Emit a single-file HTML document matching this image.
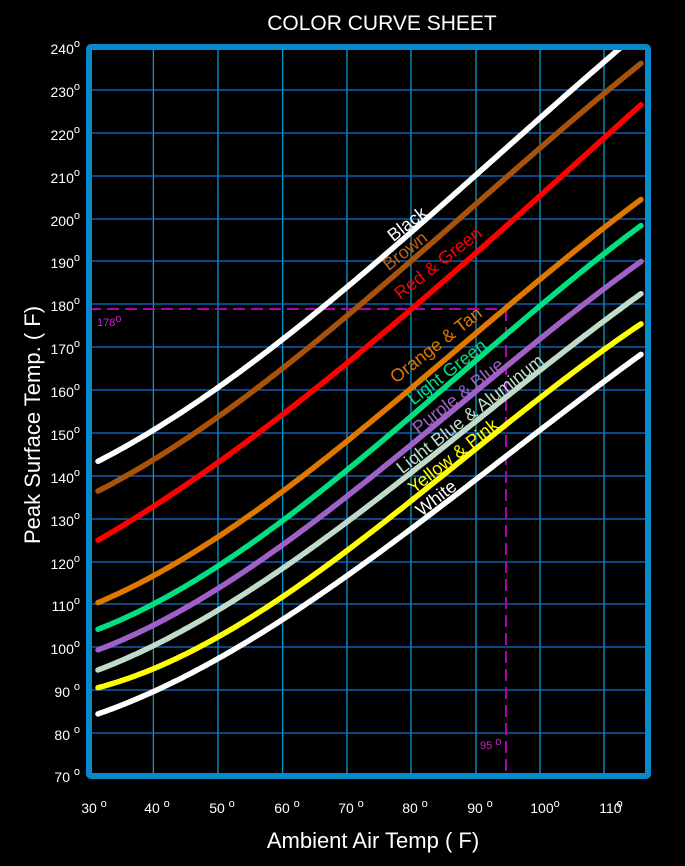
<!DOCTYPE html>
<html><head><style>
html,body{margin:0;padding:0;background:#000;}
svg{display:block;font-family:"Liberation Sans",Arial,sans-serif;}
</style></head><body>
<svg id="s" width="685" height="866" viewBox="0 0 685 866" xmlns="http://www.w3.org/2000/svg">
<rect width="685" height="866" fill="#000"/>
<text x="382" y="30" fill="#fff" font-size="21" text-anchor="middle">COLOR CURVE SHEET</text>
<g stroke-width="1.3">
<g stroke="#0a9ad0">
<line x1="153.4" y1="47" x2="153.4" y2="776"/><line x1="218" y1="47" x2="218" y2="776"/>
<line x1="282.6" y1="47" x2="282.6" y2="776"/><line x1="347" y1="47" x2="347" y2="776"/>
<line x1="411" y1="47" x2="411" y2="776"/><line x1="476" y1="47" x2="476" y2="776"/>
<line x1="540" y1="47" x2="540" y2="776"/><line x1="604" y1="47" x2="604" y2="776"/>
</g>
<g stroke="#1070d0">
<line x1="89" y1="90" x2="648" y2="90"/><line x1="89" y1="133" x2="648" y2="133"/>
<line x1="89" y1="176" x2="648" y2="176"/><line x1="89" y1="219" x2="648" y2="219"/>
<line x1="89" y1="261" x2="648" y2="261"/><line x1="89" y1="304" x2="648" y2="304"/>
<line x1="89" y1="347" x2="648" y2="347"/><line x1="89" y1="390" x2="648" y2="390"/>
<line x1="89" y1="433" x2="648" y2="433"/><line x1="89" y1="476" x2="648" y2="476"/>
<line x1="89" y1="519" x2="648" y2="519"/><line x1="89" y1="562" x2="648" y2="562"/>
<line x1="89" y1="604" x2="648" y2="604"/><line x1="89" y1="647" x2="648" y2="647"/>
<line x1="89" y1="690" x2="648" y2="690"/><line x1="89" y1="733" x2="648" y2="733"/>
</g></g>
<g stroke="#b000b0" stroke-width="2" stroke-dasharray="12,6" fill="none">
<line x1="89" y1="309" x2="506" y2="309"/><line x1="506" y1="309" x2="506" y2="776"/>
</g>
<text x="97" y="326" fill="#d020d0" font-size="11">178<tspan dy="-4">o</tspan></text>
<text x="480" y="749" fill="#d020d0" font-size="11">95 <tspan dy="-4">o</tspan></text>
<g id="curves" fill="none" stroke-width="5.5" stroke-linecap="round" stroke-linejoin="round">
<polyline stroke="#fff" points="98,461 154,430 218,388 282,340 347,286 411,232 476,176 540,118 620,48"/>
<polyline stroke="#a8520a" points="98,488 154,463 218,420 282,368 347,312 411,258 476,206 540,152 643,60"/>
<polyline stroke="#ff0000" points="98,538 154,510 218,462 282,415 347,361 411,309 476,253 540,198 643,102"/>
<polyline stroke="#e07800" points="98,602 154,577 218,535 282,495 347,437 411,390 476,334 540,279 643,198"/>
<polyline stroke="#00e080" points="98,629 154,605 218,563 282,525 347,468 411,416 476,361 540,306 643,224"/>
<polyline stroke="#a060c8" points="98,650 154,625 218,587 282,548 347,495 411,444 476,392 540,339 643,260"/>
<polyline stroke="#c0dcc8" points="98,669 154,647 218,610 282,570 347,520 411,471 476,424 540,370 643,292"/>
<polyline stroke="#ffff00" points="98,688 154,667 218,638 282,600 347,548 411,499 476,450 540,399 643,322"/>
<polyline stroke="#fff" points="98,713 154,692 218,660 282,620 347,575 411,527 476,479 540,433 643,352"/>
</g>
<g font-size="18" text-anchor="middle" dominant-baseline="central">
<text transform="translate(407,224) rotate(-38)" fill="#fff">Black</text>
<text transform="translate(405,251) rotate(-38)" fill="#c06010">Brown</text>
<text transform="translate(438,263) rotate(-38)" fill="#ff0000">Red &amp; Green</text>
<text transform="translate(436,345) rotate(-38)" fill="#e07800">Orange &amp; Tan</text>
<text transform="translate(447,372) rotate(-38)" fill="#00e080">Light Green</text>
<text transform="translate(458,396) rotate(-38)" fill="#a060c8">Purple &amp; Blue</text>
<text transform="translate(470,414) rotate(-38)" fill="#c0dcc8">Light Blue &amp; Aluminum</text>
<text transform="translate(453,456) rotate(-38)" fill="#ffff00">Yellow &amp; Pink</text>
<text transform="translate(436,498) rotate(-38)" fill="#fff">White</text>
</g>
<rect x="89" y="47" width="559" height="729" fill="none" stroke="#0a88cc" stroke-width="6" rx="2"/>
<g fill="#fff" font-size="14" text-anchor="end">
<text x="80" y="54">240<tspan dy="-7" font-size="11">o</tspan></text>
<text x="80" y="97">230<tspan dy="-7" font-size="11">o</tspan></text>
<text x="80" y="140">220<tspan dy="-7" font-size="11">o</tspan></text>
<text x="80" y="183">210<tspan dy="-7" font-size="11">o</tspan></text>
<text x="80" y="226">200<tspan dy="-7" font-size="11">o</tspan></text>
<text x="80" y="268">190<tspan dy="-7" font-size="11">o</tspan></text>
<text x="80" y="311">180<tspan dy="-7" font-size="11">o</tspan></text>
<text x="80" y="354">170<tspan dy="-7" font-size="11">o</tspan></text>
<text x="80" y="397">160<tspan dy="-7" font-size="11">o</tspan></text>
<text x="80" y="440">150<tspan dy="-7" font-size="11">o</tspan></text>
<text x="80" y="483">140<tspan dy="-7" font-size="11">o</tspan></text>
<text x="80" y="526">130<tspan dy="-7" font-size="11">o</tspan></text>
<text x="80" y="569">120<tspan dy="-7" font-size="11">o</tspan></text>
<text x="80" y="611">110<tspan dy="-7" font-size="11">o</tspan></text>
<text x="80" y="654">100<tspan dy="-7" font-size="11">o</tspan></text>
<text x="80" y="697">90 <tspan dy="-7" font-size="11">o</tspan></text>
<text x="80" y="740">80 <tspan dy="-7" font-size="11">o</tspan></text>
<text x="80" y="782">70 <tspan dy="-7" font-size="11">o</tspan></text>
</g>
<g fill="#fff" font-size="14" text-anchor="middle">
<text x="94" y="813">30 <tspan dy="-6" font-size="11">o</tspan></text>
<text x="157" y="813">40 <tspan dy="-6" font-size="11">o</tspan></text>
<text x="222" y="813">50 <tspan dy="-6" font-size="11">o</tspan></text>
<text x="287" y="813">60 <tspan dy="-6" font-size="11">o</tspan></text>
<text x="351" y="813">70 <tspan dy="-6" font-size="11">o</tspan></text>
<text x="415" y="813">80 <tspan dy="-6" font-size="11">o</tspan></text>
<text x="480" y="813">90 <tspan dy="-6" font-size="11">o</tspan></text>
<text x="545" y="813">100<tspan dy="-6" font-size="11">o</tspan></text>
<text x="611" y="813">110<tspan dx="-5" dy="-6" font-size="11">o</tspan></text>
</g>
<text x="373" y="848" fill="#fff" font-size="22" text-anchor="middle">Ambient Air Temp (  F)</text>
<text transform="translate(40,425) rotate(-90)" fill="#fff" font-size="22" text-anchor="middle">Peak Surface Temp. (  F)</text>
</svg>
<script>
(function(){
var ns="http://www.w3.org/2000/svg";
function solve(A,b){var n=b.length;for(var i=0;i<n;i++){var m=i;for(var r=i+1;r<n;r++)if(Math.abs(A[r][i])>Math.abs(A[m][i]))m=r;
 var t=A[i];A[i]=A[m];A[m]=t;t=b[i];b[i]=b[m];b[m]=t;
 for(var r=i+1;r<n;r++){var f=A[r][i]/A[i][i];for(var c=i;c<n;c++)A[r][c]-=f*A[i][c];b[r]-=f*b[i];}}
 var x=new Array(n);for(var i=n-1;i>=0;i--){var s=b[i];for(var c=i+1;c<n;c++)s-=A[i][c]*x[c];x[i]=s/A[i][i];}return x;}
var pls=document.querySelectorAll('#curves polyline');
for(var i=0;i<pls.length;i++){
 var pl=pls[i];
 var pts=pl.getAttribute('points').trim().split(/\s+/).map(function(s){return s.split(',').map(Number);});
 var D=4,A=[],b=[];for(var r=0;r<D;r++){A.push([0,0,0,0]);b.push(0);}
 pts.forEach(function(p){var t=(p[0]-370)/275;var pw=[1,t,t*t,t*t*t];
  for(var r=0;r<D;r++){b[r]+=pw[r]*p[1];for(var c=0;c<D;c++)A[r][c]+=pw[r]*pw[c];}});
 var co=solve(A,b);
 var x0=pts[0][0],x1=pts[pts.length-1][0],s='';
 for(var x=x0;x<=x1+0.01;x+=3){var xx=Math.min(x,x1);var t=(xx-370)/275;var y=co[0]+co[1]*t+co[2]*t*t+co[3]*t*t*t;s+=xx.toFixed(1)+','+y.toFixed(1)+' ';}
 pl.setAttribute('points',s.trim());
}
})();
</script>
</body></html>
